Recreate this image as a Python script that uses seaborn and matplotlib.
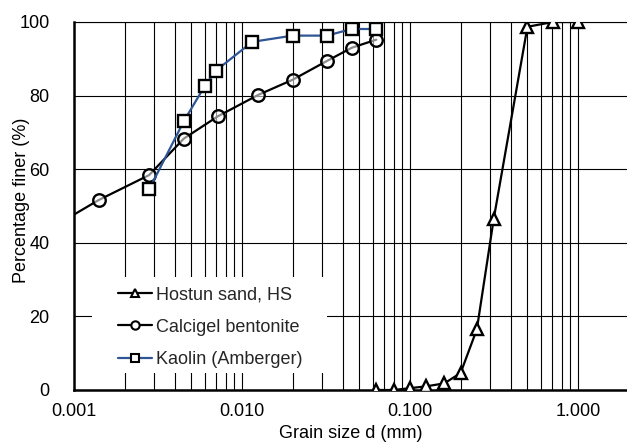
import matplotlib
matplotlib.use("Agg")
import matplotlib.pyplot as plt
from matplotlib.lines import Line2D
from matplotlib.patches import Rectangle
from matplotlib.ticker import LogLocator, FixedLocator, MultipleLocator, NullFormatter
import seaborn as sns

# Grain size distributions (grain size d in mm, percentage finer in %)
hostun_d = [0.063, 0.08, 0.1, 0.125, 0.16, 0.2, 0.25, 0.315, 0.5, 0.71, 1.0]
hostun_p = [0.0, 0.0, 0.5, 1.0, 1.8, 4.6, 16.5, 46.5, 98.7, 100.0, 100.0]

bentonite_d = [0.0007, 0.0014, 0.0028, 0.0045, 0.0072, 0.0125, 0.02, 0.032, 0.045, 0.063]
bentonite_p = [43.5, 51.6, 58.4, 68.3, 74.4, 80.2, 84.3, 89.4, 93.0, 95.2]

kaolin_d = [0.0028, 0.0045, 0.006, 0.007, 0.0115, 0.02, 0.032, 0.045, 0.063]
kaolin_p = [54.5, 73.0, 82.6, 86.8, 94.6, 96.3, 96.3, 98.1, 98.1]

series_labels = ["Hostun sand, HS", "Calcigel bentonite", "Kaolin (Amberger)"]
x_ticks = [0.001, 0.01, 0.1, 1.0]
x_ticklabels = ["0.001", "0.010", "0.100", "1.000"]
y_ticks = [0, 20, 40, 60, 80, 100]

sns.set_style("white")
plt.rcParams["font.family"] = ["Liberation Sans", "DejaVu Sans"]

W, H = 627, 443
fig = plt.figure(figsize=(W / 100, H / 100), dpi=100)
ax = fig.add_axes([74 / W, (H - 390) / H, 553 / W, 368 / H])

kaolin_blue = "#2F5597"
common = dict(markeredgecolor="black", markeredgewidth=1.7, linewidth=1.6,
              markersize=9, errorbar=None, legend=False, ax=ax, zorder=3)

sns.lineplot(x=hostun_d, y=hostun_p, color="black", marker="^",
             markerfacecolor="white", **common)
sns.lineplot(x=bentonite_d, y=bentonite_p, color="black", marker="o",
             markerfacecolor=(1, 1, 1, 0.55), **common)
sns.lineplot(x=kaolin_d, y=kaolin_p, color=kaolin_blue, marker="s",
             markerfacecolor="white", **common)

ax.set_xscale("log")
ax.set_xlim(0.001, 1.957)
ax.set_ylim(0, 100)

ax.xaxis.set_major_locator(FixedLocator(x_ticks))
ax.set_xticklabels(x_ticklabels)
ax.xaxis.set_minor_locator(LogLocator(base=10, subs=range(2, 10)))
ax.xaxis.set_minor_formatter(NullFormatter())
ax.yaxis.set_major_locator(FixedLocator(y_ticks))
ax.yaxis.set_minor_locator(MultipleLocator(10))

ax.grid(which="both", axis="x", color="black", linewidth=0.8)
ax.grid(which="major", axis="y", color="black", linewidth=0.8)
ax.set_axisbelow(True)

ax.spines["right"].set_visible(False)
ax.spines["top"].set_linewidth(0.8)
ax.spines["top"].set_color("black")
for side in ("left", "bottom"):
    ax.spines[side].set_linewidth(1.8)
    ax.spines[side].set_color("black")

ax.tick_params(axis="x", which="both", length=0, pad=9, labelsize=13, colors="black")
ax.tick_params(axis="y", which="both", direction="in", length=5, width=0.8,
               pad=17.5, labelsize=13, colors="black")

ax.set_xlabel("Grain size d (mm)", fontsize=13, color="black")
ax.set_ylabel("Percentage finer (%)", fontsize=13, color="black")
ax.xaxis.set_label_coords(0.5, -0.095)
ax.yaxis.set_label_coords(-0.079, 0.516)

# white panel behind the legend, hiding the grid there
ax.add_patch(Rectangle((0.0325, 0.046), 0.425, 0.261, transform=ax.transAxes,
                       facecolor="white", edgecolor="none", zorder=1.5))

handle_kw = dict(markersize=6, markerfacecolor="white", markeredgecolor="black",
                 markeredgewidth=1.5, linewidth=1.6)
handles = [
    Line2D([], [], color="black", marker="^", **handle_kw),
    Line2D([], [], color="black", marker="o", **handle_kw),
    Line2D([], [], color=kaolin_blue, marker="s", **handle_kw),
]
leg = ax.legend(handles, series_labels, loc="upper left",
                bbox_to_anchor=(0.0796, 0.282), frameon=False, fontsize=13,
                handlelength=1.9, handletextpad=0.2, labelspacing=0.85,
                borderpad=0, borderaxespad=0)
leg.set_zorder(4)

fig.savefig("out.png", dpi=100)
